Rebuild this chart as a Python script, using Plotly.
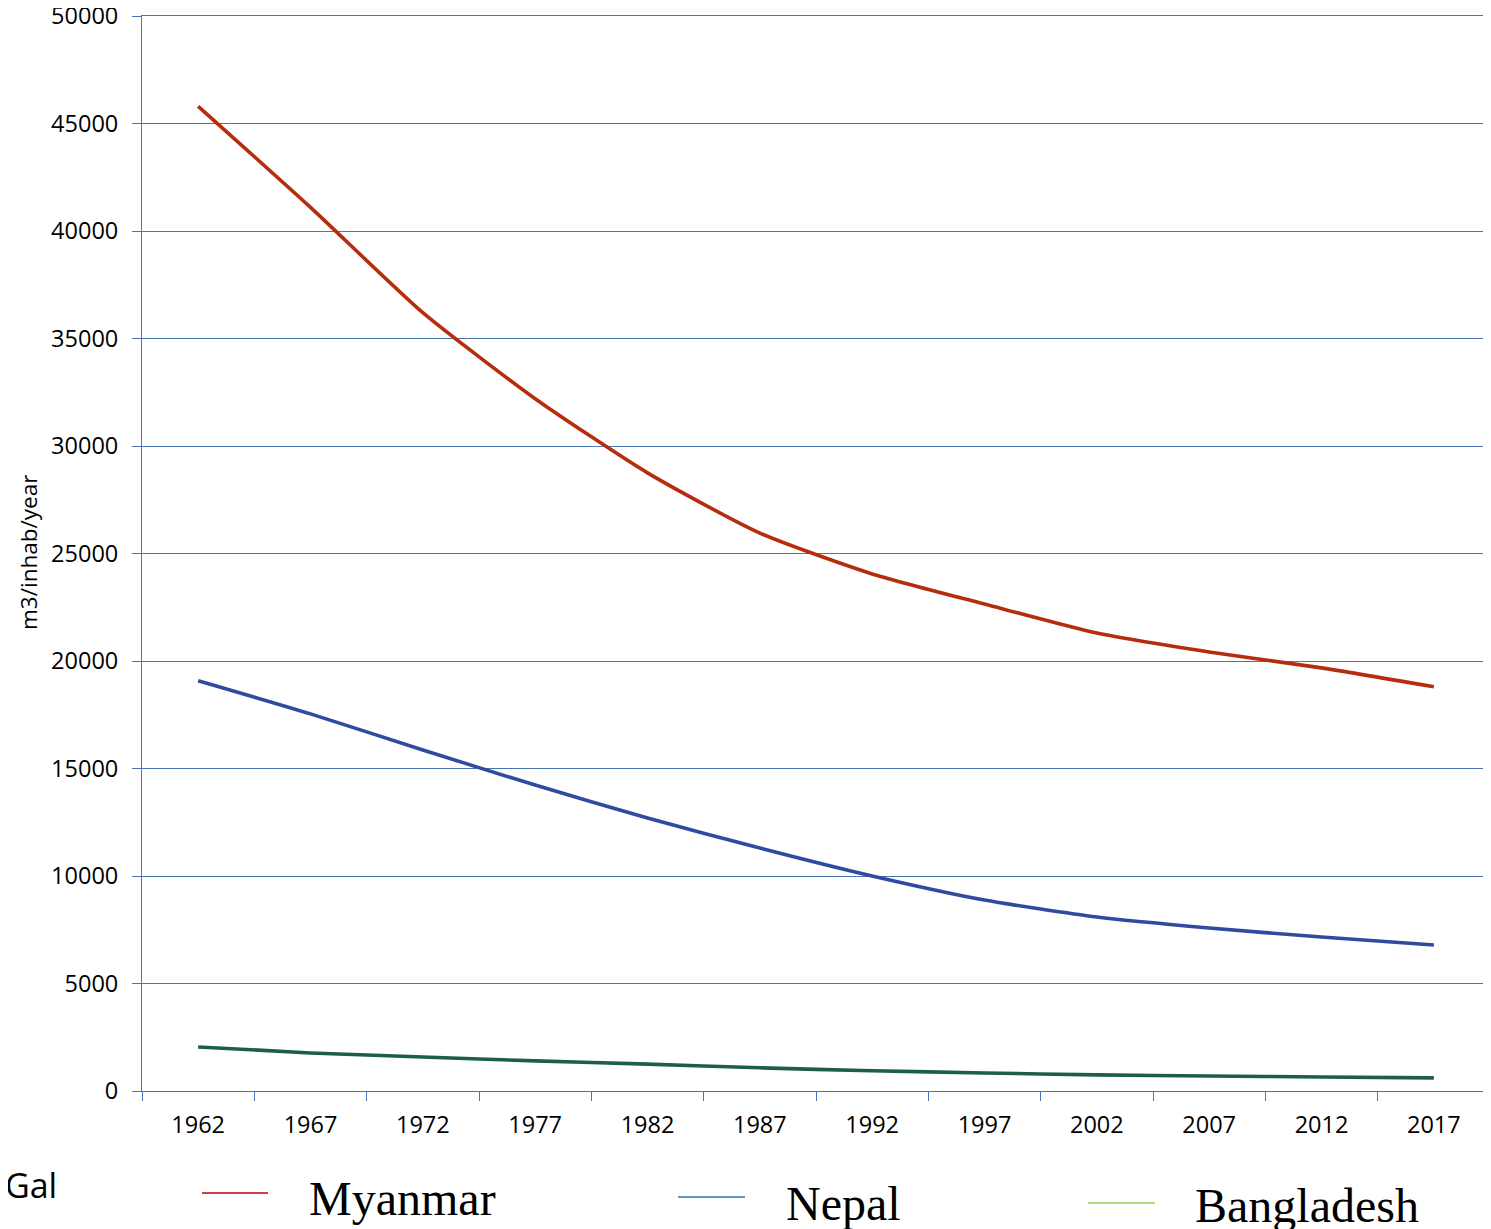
import plotly.graph_objects as go

years = ["1962", "1967", "1972", "1977", "1982", "1987", "1992", "1997", "2002", "2007", "2012", "2017"]
myanmar = [45800, 41100, 36200, 32200, 28750, 25950, 24050, 22650, 21300, 20420, 19680, 18800]
nepal = [19080, 17540, 15860, 14230, 12700, 11300, 10000, 8880, 8090, 7580, 7160, 6790]
bangladesh = [2050, 1770, 1580, 1400, 1250, 1080, 940, 840, 750, 700, 650, 610]

series_names = ["Myanmar", "Nepal", "Bangladesh"]
line_colors = ["#B52D0C", "#2E4B9F", "#1E5E48"]
legend_colors = ["#C00000", "#2E75B6", "#92D050"]

OFF = 8  # page body margin
W, H = 1491 - OFF, 1229 - OFF
L, R, T, B = 142 - OFF, 1490 - OFF, 16 - OFF, 1091 - OFF


def px(x):
    return (x - OFF - L) / (R - L)


def py(y):
    return (B - (y - OFF)) / (B - T)


fig = go.Figure()
for name, vals, col in zip(series_names, [myanmar, nepal, bangladesh], line_colors):
    fig.add_trace(go.Scatter(x=years, y=vals, mode="lines", name=name,
                             line=dict(color=col, width=3.6, shape="spline", smoothing=0.6),
                             showlegend=False))

axis_col = "#4A76B0"
fig.update_layout(
    width=W, height=H,
    margin=dict(l=L, r=W - R, t=T, b=H - B, autoexpand=False),
    plot_bgcolor="white", paper_bgcolor="white",
    font=dict(family="Open Sans, Liberation Sans, sans-serif", color="black"),
    xaxis=dict(type="category", tickson="boundaries", ticks="outside", ticklen=9,
               tickcolor=axis_col, tickwidth=1, showline=True, linecolor=axis_col,
               linewidth=1, mirror=True, showgrid=False, tickfont=dict(size=23.5),
               range=[-0.5, 11.5], ticklabelstandoff=13),
    yaxis=dict(range=[0, 50000], tickvals=list(range(0, 50001, 5000)), tickformat="d",
               ticks="outside", ticklen=9, ticklabeloverflow="allow",
               tickcolor=axis_col, showline=True, linecolor=axis_col, linewidth=1,
               gridcolor=axis_col, gridwidth=1, zeroline=False, tickfont=dict(size=23.5),
               ticklabelstandoff=9),
)

fig.add_annotation(xref="paper", yref="paper", x=px(28), y=py(552), text="m3/inhab/year",
                   textangle=-90, showarrow=False, xanchor="center", yanchor="middle",
                   font=dict(size=22.5, color="black"))

# legend drawn below the plot
leg = [(202, 268, 1193, 307, 1198), (678, 745, 1197, 784, 1203), (1088, 1155, 1203, 1193, 1205)]
for (x0, x1, yl, xt, yt), name, col in zip(leg, series_names, legend_colors):
    fig.add_shape(type="line", xref="paper", yref="paper", x0=px(x0), x1=px(x1),
                  y0=py(yl), y1=py(yl), line=dict(color=col, width=1.5))
    fig.add_annotation(xref="paper", yref="paper", x=px(xt), y=py(yt), text=name,
                       showarrow=False, xanchor="left", yanchor="middle",
                       font=dict(family="Liberation Serif, Times New Roman, serif", size=48, color="black"))

fig.add_annotation(xref="paper", yref="paper", x=px(59), y=py(1185), text="Gal",
                   showarrow=False, xanchor="right", yanchor="middle",
                   font=dict(family="Open Sans, sans-serif", size=34, color="black"))

# faint marks at the right edge
for y0, y1 in [(188, 260), (287, 312)]:
    fig.add_shape(type="line", xref="paper", yref="paper", x0=px(1489.5), x1=px(1489.5),
                  y0=py(y0), y1=py(y1), line=dict(color="#9DC3E6", width=1.5))

fig.write_html("out.html")
